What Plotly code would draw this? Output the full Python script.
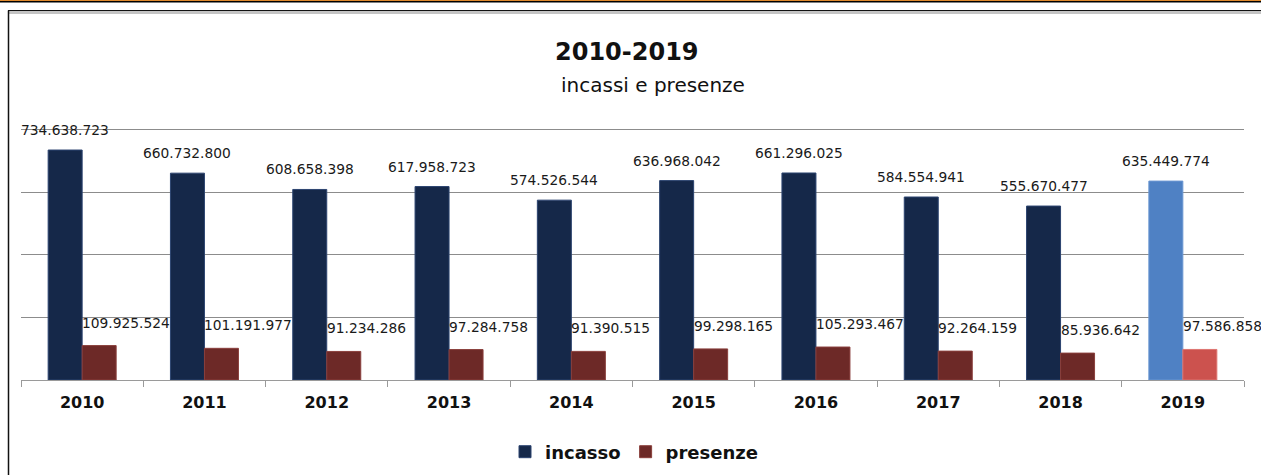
import plotly.graph_objects as go

# ---- data ----
years = ["2010", "2011", "2012", "2013", "2014", "2015", "2016", "2017", "2018", "2019"]
incasso = [734638723, 660732800, 608658398, 617958723, 574526544,
           636968042, 661296025, 584554941, 555670477, 635449774]
presenze = [109925524, 101191977, 91234286, 97284758, 91390515,
            99298165, 105293467, 92264159, 85936642, 97586858]
series_names = ["incasso", "presenze"]
title_text = "2010-2019"
subtitle_text = "incassi e presenze"

# ---- layout geometry (pixels) ----
W, H = 1261, 475
L, R, T, B = 21, 1244, 128, 380
Y_MAX = 8.05e8


def px_x(x):
    return (x - L) / (R - L)


def px_y(y):
    return (B - y) / (B - T)


def fmt(v):
    return f"{v:,}".replace(",", ".")


navy = "#152849"
navy_19 = "#4f81c4"
red = "#6d2927"
red_19 = "#cc524e"
inc_colors = [navy] * (len(years) - 1) + [navy_19]
pre_colors = [red] * (len(years) - 1) + [red_19]
inc_lines = ["#2c4470"] * (len(years) - 1) + ["#6b97d2"]
pre_lines = ["#8a3f3c"] * (len(years) - 1) + ["#de7470"]

FONT = "DejaVu Sans"
LBL = 13.8

fig = go.Figure()
fig.add_trace(go.Bar(
    x=years, y=incasso, name=series_names[0],
    marker=dict(color=inc_colors, line=dict(color=inc_lines, width=1)),
))
fig.add_trace(go.Bar(
    x=years, y=presenze, name=series_names[1],
    marker=dict(color=pre_colors, line=dict(color=pre_lines, width=1)),
))

annotations = []
for i, v in enumerate(incasso):
    annotations.append(dict(
        x=i, y=v, xref="x", yref="y", text=fmt(v), showarrow=False,
        xanchor="center", yanchor="middle", xshift=-17, yshift=20,
        font=dict(family=FONT, size=LBL, color="#1a1a1a")))
for i, v in enumerate(presenze):
    annotations.append(dict(
        x=i, y=v, xref="x", yref="y", text=fmt(v), showarrow=False,
        xanchor="left", yanchor="middle", xshift=-2, yshift=23,
        font=dict(family=FONT, size=LBL, color="#1a1a1a")))

annotations.append(dict(
    x=px_x(627), y=px_y(52), xref="paper", yref="paper", text=title_text,
    showarrow=False, xanchor="center", yanchor="middle",
    font=dict(family=FONT, size=24, color="#111111", weight="bold")))
annotations.append(dict(
    x=px_x(653), y=px_y(85), xref="paper", yref="paper", text=subtitle_text,
    showarrow=False, xanchor="center", yanchor="middle",
    font=dict(family=FONT, size=20, color="#111111")))

shapes = [
    # outer top lines
    dict(type="line", xref="paper", yref="paper", x0=px_x(0), x1=px_x(W),
         y0=px_y(0.5), y1=px_y(0.5), line=dict(color="#e0892c", width=1)),
    dict(type="line", xref="paper", yref="paper", x0=px_x(0), x1=px_x(W),
         y0=px_y(1.7), y1=px_y(1.7), line=dict(color="#000000", width=1.5)),
    # frame
    dict(type="rect", xref="paper", yref="paper", x0=px_x(8), x1=px_x(W + 2),
         y0=px_y(14), y1=px_y(11), fillcolor="#c4c4c4", line=dict(width=0)),
    dict(type="line", xref="paper", yref="paper", x0=px_x(8), x1=px_x(W + 2),
         y0=px_y(10.5), y1=px_y(10.5), line=dict(color="#111111", width=1.2)),
    dict(type="line", xref="paper", yref="paper", x0=px_x(8.5), x1=px_x(8.5),
         y0=px_y(10.5), y1=px_y(H + 2), line=dict(color="#111111", width=1.5)),
]

fig.update_layout(
    width=W, height=H,
    margin=dict(l=L, r=W - R, t=T, b=H - B, pad=0, autoexpand=False),
    paper_bgcolor="white", plot_bgcolor="white",
    barmode="group", bargap=0.444, bargroupgap=0,
    showlegend=True,
    legend=dict(orientation="h", x=px_x(634), xanchor="center",
                y=px_y(452), yanchor="middle",
                font=dict(family=FONT, size=18, color="#111111", weight="bold"),
                traceorder="normal", bgcolor="rgba(0,0,0,0)"),
    annotations=annotations,
    shapes=shapes,
    xaxis=dict(
        type="category", range=[-0.5, len(years) - 0.5], autorange=False,
        automargin=False,
        showgrid=False, showline=True, linecolor="#9a9a9a",
        linewidth=1.2, ticks="outside", tickson="boundaries", ticklen=6,
        tickcolor="#9a9a9a", tickwidth=1.2, tickangle=0,
        tickfont=dict(family=FONT, size=16, color="#111111", weight="bold"),
        ticklabelstandoff=8, zeroline=False,
    ),
    yaxis=dict(
        range=[0, Y_MAX], autorange=False, automargin=False,
        dtick=200e6, tick0=0, showticklabels=False,
        showgrid=True, gridcolor="#8c8c8c", gridwidth=1, zeroline=False,
        showline=False, ticks="",
    ),
)

fig.write_html(
    "out.html",
    config={"displayModeBar": False},
    post_script="document.body.style.margin='0';document.body.style.overflow='hidden';",
)
